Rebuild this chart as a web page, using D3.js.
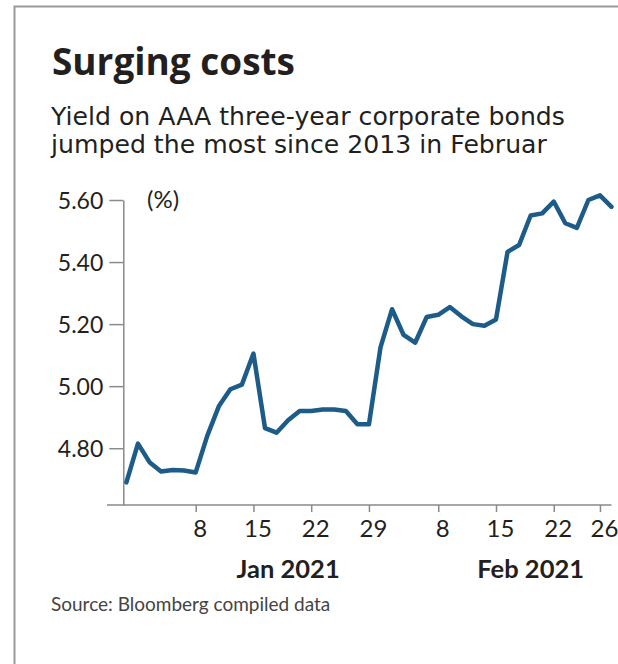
<!DOCTYPE html>
<html>
<head>
<meta charset="utf-8">
<script src="https://cdn.jsdelivr.net/npm/d3@7"></script>
<style>
  html, body { margin: 0; padding: 0; background: #fff; overflow: hidden; }
  svg { display: block; }
  text { font-family: Lato, "Noto Sans", sans-serif; fill: #231f20; }
  .title { font-family: "Open Sans", Lato, sans-serif; }
  .deck { font-family: "DejaVu Sans", "Open Sans", sans-serif; }
</style>
</head>
<body>
<svg id="chart" width="618" height="664"></svg>
<script>
// Trading days (weekdays) from 31 Dec 2020 to 1 Mar 2021
const dates = [
  "2020-12-31", "2021-01-01",
  "2021-01-04", "2021-01-05", "2021-01-06", "2021-01-07", "2021-01-08",
  "2021-01-11", "2021-01-12", "2021-01-13", "2021-01-14", "2021-01-15",
  "2021-01-18", "2021-01-19", "2021-01-20", "2021-01-21", "2021-01-22",
  "2021-01-25", "2021-01-26", "2021-01-27", "2021-01-28", "2021-01-29",
  "2021-02-01", "2021-02-02", "2021-02-03", "2021-02-04", "2021-02-05",
  "2021-02-08", "2021-02-09", "2021-02-10", "2021-02-11", "2021-02-12",
  "2021-02-15", "2021-02-16", "2021-02-17", "2021-02-18", "2021-02-19",
  "2021-02-22", "2021-02-23", "2021-02-24", "2021-02-25", "2021-02-26",
  "2021-03-01"
];

// AAA three-year corporate bond yield, %
const yields = [
  4.69, 4.815,
  4.755, 4.725, 4.73, 4.728, 4.722,
  4.84, 4.935, 4.99, 5.005, 5.105,
  4.865, 4.85, 4.89, 4.92, 4.92,
  4.925, 4.925, 4.92, 4.877, 4.877,
  5.125, 5.248, 5.165, 5.14, 5.223,
  5.23, 5.255, 5.225, 5.20, 5.195,
  5.215, 5.433, 5.455, 5.55, 5.557,
  5.595, 5.525, 5.51, 5.60, 5.615,
  5.578
];

// Axis tick labels
const yTicks = [4.80, 5.00, 5.20, 5.40, 5.60];
const xTickDates = ["2021-01-08", "2021-01-15", "2021-01-22", "2021-01-29",
                    "2021-02-08", "2021-02-15", "2021-02-22", "2021-02-26"];
const monthLabels = ["Jan 2021", "Feb 2021"];
const monthCentreDates = ["2021-01-20", "2021-02-18"];

const svg = d3.select("#chart");

// Scale a text's font size so that it spans the given width
function fitWidth(sel, width) {
  const size = parseFloat(sel.attr("font-size"));
  const w = sel.node().getComputedTextLength();
  const s = w > 0 ? size * width / w : size;
  sel.attr("font-size", s.toFixed(2));
  return s;
}

// Frame
svg.append("path")
  .attr("d", "M14.5,664 V6.5 H618")
  .attr("fill", "none")
  .attr("stroke", "#9a9a9a")
  .attr("stroke-width", 2);

// Headline and deck
const title = svg.append("text")
  .attr("class", "title")
  .attr("x", 52).attr("y", 75)
  .attr("font-size", 32).attr("font-weight", 700)
  .text("Surging costs");
fitWidth(title, 243);

const deck1 = svg.append("text")
  .attr("class", "deck")
  .attr("x", 51).attr("y", 125)
  .attr("font-size", 23)
  .text("Yield on AAA three-year corporate bonds");
const deckSize = fitWidth(deck1, 514);
svg.append("text")
  .attr("class", "deck")
  .attr("x", 51).attr("y", 153)
  .attr("font-size", deckSize.toFixed(2))
  .text("jumped the most since 2013 in Februar");

// Scales
const idx = d3.range(dates.length);
const x = d3.scaleLinear().domain([0, dates.length - 1]).range([126.4, 611.5]);
const y = d3.scaleLinear().domain([4.617, 5.60]).range([505, 200]);
const xOf = d => x(dates.indexOf(d));

// Y axis
const yAxis = svg.append("g")
  .attr("transform", "translate(123.3,0)")
  .call(d3.axisLeft(y).tickValues(yTicks).tickFormat(d3.format(".2f")).tickSize(14).tickSizeOuter(0));
yAxis.select(".domain").attr("stroke", "#8a8a8a").attr("stroke-width", 1.5);
yAxis.selectAll(".tick line").attr("stroke", "#8a8a8a").attr("stroke-width", 1.5);
yAxis.selectAll(".tick text")
  .attr("x", -20).attr("dy", "0.35em")
  .attr("font-size", 23).attr("font-family", "Lato, 'Noto Sans', sans-serif")
  .attr("fill", "#231f20");

svg.append("text")
  .attr("x", 147).attr("y", y(5.60)).attr("dy", "0.35em")
  .attr("font-size", 24)
  .text("(%)");

// X axis
const xAxis = svg.append("g")
  .attr("transform", "translate(0,505)")
  .call(d3.axisBottom(x)
    .tickValues(xTickDates.map(d => dates.indexOf(d)))
    .tickFormat(i => +dates[i].slice(8))
    .tickSize(7).tickSizeOuter(0));
xAxis.select(".domain").remove();
xAxis.append("line")
  .attr("x1", 107).attr("x2", 611.5)
  .attr("stroke", "#8a8a8a").attr("stroke-width", 1.5);
xAxis.selectAll(".tick line").attr("stroke", "#8a8a8a").attr("stroke-width", 1.5);
xAxis.selectAll(".tick text")
  .attr("x", 4).attr("y", 15).attr("dy", "0.71em")
  .attr("font-size", 24).attr("font-family", "Lato, 'Noto Sans', sans-serif")
  .attr("fill", "#231f20");

svg.selectAll(".month")
  .data(monthLabels)
  .join("text")
  .attr("class", "month")
  .attr("x", (d, i) => xOf(monthCentreDates[i]))
  .attr("y", 578)
  .attr("text-anchor", "middle")
  .attr("font-size", 25.5).attr("font-weight", 700)
  .text(d => d);

// Yield line
const line = d3.line()
  .x(i => x(i))
  .y(i => y(yields[i]))
  .curve(d3.curveLinear);

svg.append("path")
  .datum(idx)
  .attr("d", line)
  .attr("fill", "none")
  .attr("stroke", "#1d5b88")
  .attr("stroke-width", 4.5)
  .attr("stroke-linejoin", "round")
  .attr("stroke-linecap", "round");

// Source note
svg.append("text")
  .attr("x", 51).attr("y", 611)
  .attr("font-size", 19)
  .style("fill", "#444")
  .text("Source: Bloomberg compiled data");
</script>
</body>
</html>
